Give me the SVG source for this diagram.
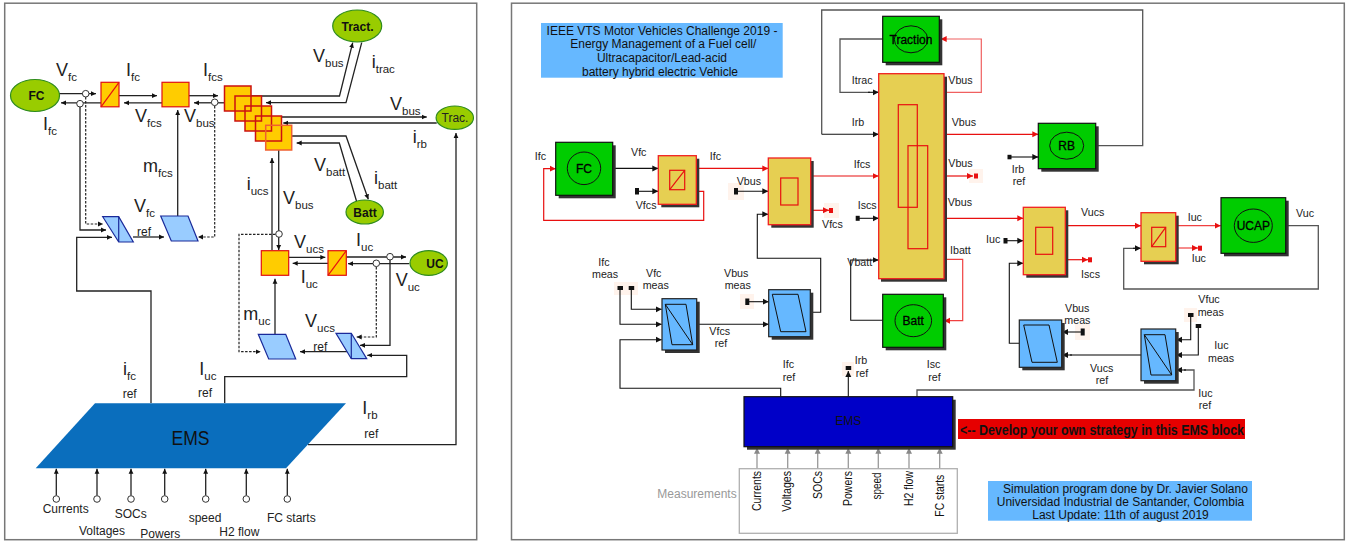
<svg xmlns="http://www.w3.org/2000/svg" width="1356" height="542" viewBox="0 0 1356 542">
<style>
text{font-family:"Liberation Sans",Arial,sans-serif;fill:#222}
.w{fill:none;stroke:#111;stroke-width:1.2}
.a{fill:none;stroke:#222;stroke-width:1.3;marker-end:url(#ak)}
.d{fill:none;stroke:#222;stroke-width:1.2;stroke-dasharray:2.5 1.5;marker-end:url(#ak)}
.g{fill:none;stroke:#555;stroke-width:1.3}
.ra{fill:none;stroke:#e81010;stroke-width:1.2;marker-end:url(#ar)}
.ba{fill:none;stroke:#111;stroke-width:1.1;marker-end:url(#ab)}
.ga{fill:none;stroke:#999;stroke-width:1.3;marker-end:url(#ag)}
.o{fill:#fff;stroke:#333;stroke-width:1}
.big{font-size:18px}
.big tspan{font-size:11.5px}
.s12{font-size:12px}
.s11{font-size:10.7px;fill:#333}
.b{font-weight:bold;fill:#111}
.h{fill:#000;stroke:#000;stroke-width:.3;font-size:12px}
.yb{fill:#ffcc00;stroke:#e01010;stroke-width:1.2}
.stf{fill:#ffcc00}
.stk{fill:none;stroke:#cc1111;stroke-width:1.5}
.pa{fill:#99ccff;stroke:#1a2a9a;stroke-width:1.2}
.el{fill:#99cc00;stroke:#2e8b1e;stroke-width:1.2}
.sh{fill:#333}
.gr{fill:#00cc00;stroke:#111;stroke-width:1.2}
.ye{fill:#e6cf52;stroke:#f02020;stroke-width:1.3}
.bl{fill:#66b8ff;stroke:#222;stroke-width:1.2}
.in{fill:none;stroke:#e81010;stroke-width:1.2}
.ik{fill:none;stroke:#111;stroke-width:1}
.hl{fill:#fff3ec}
.pk{fill:#111}
.pr{fill:#e81010}
.fr{fill:#fff;stroke:#777;stroke-width:1.5}
.nt text{fill:#111}
</style>
<defs>
<marker id="ak" markerUnits="userSpaceOnUse" markerWidth="6" markerHeight="6" refX="5" refY="3" orient="auto"><path d="M0 .6L5 3L0 5.4z" fill="#111"/></marker>
<marker id="ar" markerUnits="userSpaceOnUse" markerWidth="7" markerHeight="7" refX="6" refY="3.5" orient="auto"><path d="M0 .5L6 3.5L0 6.5z" fill="#e81010"/></marker>
<marker id="ab" markerUnits="userSpaceOnUse" markerWidth="7" markerHeight="7" refX="6" refY="3.5" orient="auto"><path d="M0 .5L6 3.5L0 6.5z" fill="#111"/></marker>
<marker id="ag" markerUnits="userSpaceOnUse" markerWidth="7" markerHeight="7" refX="6" refY="3.5" orient="auto"><path d="M0 .5L6 3.5L0 6.5z" fill="#888"/></marker>
</defs>
<rect width="1356" height="542" fill="#fff"/>
<rect class="fr" x="4.7" y="3.2" width="472" height="536.5"/>
<rect class="fr" x="511.5" y="3.2" width="832.8" height="536.5"/>

<g id="connectors-left">
<path class="a" d="M59 93.7H96"/><path class="a" d="M101 102.8H61"/>
<path class="a" d="M119 95.7H157"/><path class="a" d="M162 102.8H124"/>
<path class="a" d="M189 95.7H218"/><path class="a" d="M224 102.8H194"/>
<path class="a" d="M80 107V230H106"/><path class="d" d="M85.7 97V224H103"/>
<path class="a" d="M151 403V291H76.7V237.3H112"/>
<path class="a" d="M133 237H164"/><path class="a" d="M177.7 216V110"/>
<path class="d" d="M214.7 106V237H198"/>
<path class="a" d="M251 96H339.5L352.7 42.7"/><path class="a" d="M361.7 42.7L346 102.7H266"/>
<path class="a" d="M281.7 117H426.7"/><path class="a" d="M436.7 123H283.3"/>
<path class="a" d="M291.7 136H346L368.3 199.3"/><path class="a" d="M356.7 201.7L339.3 143H296.7"/>
<path class="a" d="M272 250V158"/><path class="a" d="M278.7 150V250"/>
<path class="d" d="M275.5 234.3H239V351.7H260.7"/>
<path class="a" d="M288.7 257.3H325.3"/><path class="a" d="M328 263.3H292.7"/>
<path class="a" d="M346.3 257H406"/><path class="a" d="M409.3 263.7H348"/>
<path class="a" d="M390 260V345.3H360"/><path class="d" d="M376.3 267V337H356.7"/>
<path class="a" d="M348.7 351.7H300"/><path class="a" d="M275 334V278.7"/>
<path class="a" d="M224.7 403V376.7H406.7V355.3H367.3"/>
<path class="a" d="M308 444.7H456V133"/>
<path class="a" d="M56.3 495.5V468.8"/><path class="a" d="M97 495.5V468.8"/><path class="a" d="M131 495.5V468.8"/><path class="a" d="M164.7 495.5V468.8"/><path class="a" d="M205.7 495.5V468.8"/><path class="a" d="M246.3 495.5V468.8"/><path class="a" d="M287.3 495.5V468.8"/>
<circle class="o" cx="85.7" cy="93.7" r="3.3"/><circle class="o" cx="80" cy="103.7" r="3.3"/><circle class="o" cx="214.7" cy="102.3" r="3.3"/>
<circle class="o" cx="279" cy="234" r="3.3"/><circle class="o" cx="390" cy="256.7" r="3.3"/><circle class="o" cx="376.3" cy="263.3" r="3.3"/>
<circle class="o" cx="56.3" cy="499" r="3.3"/><circle class="o" cx="97" cy="499" r="3.3"/><circle class="o" cx="131" cy="499" r="3.3"/><circle class="o" cx="164.7" cy="499" r="3.3"/><circle class="o" cx="205.7" cy="499" r="3.3"/><circle class="o" cx="246.3" cy="499" r="3.3"/><circle class="o" cx="287.3" cy="499" r="3.3"/>
</g>

<g id="fc-left"><ellipse class="el" cx="35" cy="95.5" rx="24.5" ry="16"/><text class="s12 b" x="36.5" y="100" text-anchor="middle">FC</text></g>
<g id="conv-fc-left"><rect class="yb" x="101" y="82.3" width="18" height="24.5"/><path class="in" d="M101 106.8L119 82.3"/></g>
<g id="chop-fc-left"><rect class="yb" x="162" y="82.3" width="27" height="24.5"/></g>
<g id="bus-left">
<rect class="stf" x="224.5" y="86" width="26.5" height="25"/><rect class="stf" x="235" y="96" width="26.5" height="25"/><rect class="stf" x="245" y="106" width="26.5" height="25"/><rect class="stf" x="255.5" y="116" width="26" height="25"/><rect class="stf" x="265.7" y="125.3" width="26" height="24.7"/>
<rect class="stk" x="224.5" y="86" width="26.5" height="25"/><rect class="stk" x="235" y="96" width="26.5" height="25"/><rect class="stk" x="245" y="106" width="26.5" height="25"/><rect class="stk" x="255.5" y="116" width="26" height="25"/><rect class="stk" x="265.7" y="125.3" width="26" height="24.7" style="stroke:#f06030"/>
</g>
<g id="tract-top"><ellipse class="el" cx="357.2" cy="26" rx="24.5" ry="16"/><text class="s12 b" x="357.5" y="31" text-anchor="middle">Tract.</text></g>
<g id="trac-right"><ellipse class="el" cx="454.8" cy="117.7" rx="18.7" ry="11.7"/><text class="s12" x="455" y="122" text-anchor="middle">Trac.</text></g>
<g id="batt-left"><ellipse class="el" cx="364.7" cy="212" rx="18.7" ry="12"/><text class="s12 b" x="365" y="216.5" text-anchor="middle">Batt</text></g>
<g id="uc-left"><ellipse class="el" cx="428.7" cy="263" rx="18.7" ry="12.3"/><text class="s12 b" x="435" y="267.5" text-anchor="middle">UC</text></g>
<g id="chop-uc-left"><rect class="yb" x="261.3" y="250.7" width="27.4" height="24.6"/></g>
<g id="conv-uc-left"><rect class="yb" x="328" y="250.7" width="18.3" height="24.6"/><path class="in" d="M328 275.3L346.3 250.7"/></g>
<g id="ctrl-v-fc"><path class="pa" d="M102.7 216.7H118.7L133.3 242H118.7Z"/><path class="pa" d="M118.7 216.7V242"/></g>
<g id="ctrl-m-fc"><path class="pa" d="M160.7 216H188L198 241H171.3Z"/></g>
<g id="ctrl-v-uc"><path class="pa" d="M336 333.3H351.3L366.7 358.7H351.3Z"/><path class="pa" d="M351.3 333.3V358.7"/></g>
<g id="ctrl-m-uc"><path class="pa" d="M258.3 334.3H285.7L295.7 359H268.7Z"/></g>
<g id="ems-left"><path d="M95 403.3H346L286 468.3H35.7Z" fill="#0a6ebd"/><text x="171.5" y="445" font-size="20" textLength="38" lengthAdjust="spacingAndGlyphs" style="fill:#111">EMS</text></g>

<g id="labels-left">
<text class="big" x="56" y="76">V<tspan dy="5">fc</tspan></text>
<text class="big" x="126" y="76">I<tspan dy="5">fc</tspan></text>
<text class="big" x="203" y="76">I<tspan dy="5">fcs</tspan></text>
<text class="big" x="43" y="130">I<tspan dy="5">fc</tspan></text>
<text class="big" x="135" y="122">V<tspan dy="5">fcs</tspan></text>
<text class="big" x="184" y="122">V<tspan dy="5">bus</tspan></text>
<text class="big" x="143" y="172">m<tspan dy="5">fcs</tspan></text>
<text class="big" x="134" y="212">V<tspan dy="5">fc</tspan></text>
<text class="s12" x="137" y="236">ref</text>
<text class="big" x="313" y="62">V<tspan dy="5">bus</tspan></text>
<text class="big" x="371.7" y="68">i<tspan dy="5">trac</tspan></text>
<text class="big" x="390" y="110">V<tspan dy="5">bus</tspan></text>
<text class="big" x="412.7" y="143">i<tspan dy="5">rb</tspan></text>
<text class="big" x="314" y="170.7">V<tspan dy="5">batt</tspan></text>
<text class="big" x="374" y="184">i<tspan dy="5">batt</tspan></text>
<text class="big" x="246.7" y="190">i<tspan dy="5">ucs</tspan></text>
<text class="big" x="283" y="204">V<tspan dy="5">bus</tspan></text>
<text class="big" x="294" y="248">V<tspan dy="5">ucs</tspan></text>
<text class="big" x="356" y="246">I<tspan dy="5">uc</tspan></text>
<text class="big" x="300.7" y="283">I<tspan dy="5">uc</tspan></text>
<text class="big" x="395.7" y="286">V<tspan dy="5">uc</tspan></text>
<text class="big" x="243.3" y="320">m<tspan dy="5">uc</tspan></text>
<text class="big" x="305" y="327">V<tspan dy="5">ucs</tspan></text>
<text class="s12" x="313.3" y="351">ref</text>
<text class="big" x="123" y="375">i<tspan dy="5">fc</tspan></text><text class="s12" x="122.7" y="398">ref</text>
<text class="big" x="199.3" y="375">I<tspan dy="5">uc</tspan></text><text class="s12" x="198" y="397">ref</text>
<text class="big" x="362.3" y="414">I<tspan dy="5">rb</tspan></text><text class="s12" x="364.3" y="438">ref</text>
<text class="s12" x="42.7" y="512.7">Currents</text><text class="s12" x="79" y="535">Voltages</text><text class="s12" x="114.7" y="517.7">SOCs</text><text class="s12" x="140.3" y="537.7">Powers</text><text class="s12" x="188.7" y="521.7">speed</text><text class="s12" x="219.3" y="535.7">H2 flow</text><text class="s12" x="267" y="521.7">FC starts</text>
</g>

<g id="connectors-right">
<rect class="hl" x="728" y="183" width="16" height="17"/><rect class="hl" x="824" y="203" width="15" height="15"/><rect class="hl" x="969" y="169" width="14" height="14"/><rect class="hl" x="1075" y="324" width="15" height="16"/><rect class="hl" x="1184" y="308" width="13" height="14"/><rect class="hl" x="842" y="362" width="12" height="14"/><rect class="hl" x="740" y="294" width="14" height="15"/><rect class="hl" x="614" y="282" width="24" height="13"/>
<path class="ba" d="M612.7 168.4H658.3"/><path class="ba" d="M637 191.3H658.3"/>
<path class="ra" d="M696.3 168.4H768.3"/><path class="ra" d="M696.3 191.3H703.7V220.3H543.7V168.7H555.7"/>
<path class="ba" d="M736 191.3H768.3"/><path class="ra" d="M810.7 210.3H829"/>
<path class="ra" d="M810.7 176H878.7"/>
<path class="ba" d="M810.7 312.3H820.7V258.3H757.3V214.3H768.3"/>
<path class="g" d="M1096 145.7H1142.7V10H821.7V134.3"/><path class="ba" d="M821.7 134.3H878.7"/>
<path class="g" d="M882.7 39H840V92.3H870"/><path class="ba" d="M868 92.3H878.7"/>
<path class="ra" d="M944 92.3H981.3V39H940.7" style="stroke:#f06060"/>
<path class="ra" d="M944 134.3H1038.3"/><path class="ba" d="M1009.3 157H1038.3"/>
<path class="ra" d="M944 176H973"/><path class="ba" d="M857.7 218.3H878.7"/>
<path class="ba" d="M882.7 320.3H850.7V260H878.7"/>
<path class="ra" d="M944 259.3H962.7V320.7H944" style="stroke:#f04040"/>
<path class="ra" d="M944 218.3H1023.3"/><path class="ba" d="M1005.7 240.7H1023.3"/>
<path class="ba" d="M1019.3 343.3H1009.3V263.3H1023.3"/>
<path class="ra" d="M1065.3 225.7H1141"/><path class="ra" d="M1065.3 259.7H1088"/>
<path class="ra" d="M1175.7 225.7H1220.7" style="stroke:#f04040"/><path class="ra" d="M1175.7 248H1198" style="stroke:#f04040"/>
<path class="g" d="M1285.7 225.7H1318.3V289H1123.7V248.3H1135"/><path class="ba" d="M1133 248.3H1141"/>
<path class="ba" d="M1082.7 332H1062"/><path class="g" d="M1141 355H1070"/><path class="ba" d="M1072 355H1062"/>
<path class="ba" d="M1190.7 314.7V339.7H1176"/><path class="ba" d="M1198.3 326V355H1176"/>
<path class="g" d="M917 396.7V390H1194V370H1184"/><path class="ba" d="M1186 370H1176"/>
<path class="ba" d="M631.3 290V309.3H661.7"/><path class="ba" d="M620 290V324.3H661.7"/>
<path class="ba" d="M780.7 396.7V388.3H620V339.7H661.7"/>
<path class="ba" d="M696.7 324.3H768.7"/><path class="ba" d="M747.3 301.7H768.7"/>
<path class="ba" d="M848.3 396.7V371"/>
<path class="ga" d="M757 469V447.7"/><path class="ga" d="M787.7 469V447.7"/><path class="ga" d="M817.7 469V447.7"/><path class="ga" d="M848.3 469V447.7"/><path class="ga" d="M878.3 469V447.7"/><path class="ga" d="M909 469V447.7"/><path class="ga" d="M939.7 469V447.7"/>
<rect class="pk" x="635" y="188" width="4" height="6.5"/><rect class="pk" x="734" y="188" width="4" height="6.5"/><rect class="pk" x="1007.5" y="154.8" width="4" height="4.5"/><rect class="pk" x="855.7" y="215.8" width="4" height="5"/><rect class="pk" x="1003.5" y="238" width="4" height="5.5"/><rect class="pk" x="1080.7" y="328.5" width="4" height="7"/><rect class="pk" x="1188" y="313" width="5.5" height="4"/><rect class="pk" x="1195.7" y="324" width="5.5" height="4"/><rect class="pk" x="617.5" y="286" width="5.5" height="4"/><rect class="pk" x="628.7" y="286" width="5.5" height="4"/><rect class="pk" x="745.3" y="298.5" width="4" height="6.5"/><rect class="pk" x="845.7" y="366" width="5.5" height="4"/>
<rect class="pr" x="829" y="208" width="4" height="5"/><rect class="pr" x="974" y="173.5" width="4" height="5"/><rect class="pr" x="1088" y="257.3" width="4" height="5"/><rect class="pr" x="1198" y="245.7" width="4" height="5"/>
</g>

<g id="note-title" class="nt"><rect x="541" y="23" width="241.7" height="54.7" fill="#66b8ff"/>
<g class="s12" text-anchor="middle"><text x="662" y="34.5">IEEE VTS Motor Vehicles Challenge 2019 -</text><text x="663.3" y="48">Energy Management of a Fuel cell/</text><text x="662" y="62">Ultracapacitor/Lead-acid</text><text x="660" y="75.5">battery hybrid electric Vehicle</text></g></g>

<g id="fc"><rect class="sh" x="558.7" y="145.3" width="57" height="53"/><rect class="gr" x="555.7" y="142.3" width="57" height="53"/><ellipse class="ik" cx="584" cy="168.3" rx="16.7" ry="16.3"/><text x="584" y="173" class="h" text-anchor="middle">FC</text></g>
<g id="conv-fc"><rect class="sh" x="661.3" y="158.7" width="38" height="48.6"/><rect class="ye" x="658.3" y="155.7" width="38" height="48.6"/><rect class="in" x="669.7" y="170.3" width="15" height="19.4"/><path class="in" d="M669.7 189.7L684.7 170.3"/></g>
<g id="chop-fc"><rect class="sh" x="771.3" y="161" width="42.4" height="66.7"/><rect class="ye" x="768.3" y="158" width="42.4" height="66.7"/><rect class="in" x="780.7" y="178" width="17.3" height="27"/></g>
<g id="traction"><rect class="sh" x="885.7" y="19.3" width="56.6" height="46"/><rect class="gr" x="882.7" y="16.3" width="56.6" height="46"/><ellipse class="ik" cx="911" cy="39.3" rx="16.7" ry="13.5"/><text x="911" y="43.5" class="h" text-anchor="middle">Traction</text></g>
<g id="bus"><rect class="sh" x="881" y="76.7" width="66" height="205"/><rect class="ye" x="878.7" y="73.7" width="65.3" height="205"/><rect class="in" x="898.3" y="104.7" width="19" height="102.6"/><rect class="in" x="908" y="145.7" width="19.7" height="103"/></g>
<g id="rb"><rect class="sh" x="1041.3" y="126.3" width="57.4" height="45.4"/><rect class="gr" x="1038.3" y="123.3" width="57.4" height="45.4"/><ellipse class="ik" cx="1066.7" cy="145.7" rx="17" ry="13.5"/><text x="1066.7" y="150" class="h" text-anchor="middle">RB</text></g>
<g id="batt"><rect class="sh" x="885.7" y="297.3" width="60.6" height="53"/><rect class="gr" x="882.7" y="294.3" width="60.6" height="53"/><ellipse class="ik" cx="913.3" cy="320.7" rx="18.3" ry="16"/><text x="913.3" y="325" class="h" text-anchor="middle">Batt</text></g>
<g id="chop-uc"><rect class="sh" x="1026.3" y="210.3" width="42" height="67.4"/><rect class="ye" x="1023.3" y="207.3" width="42" height="67.4"/><rect class="in" x="1035.7" y="227.3" width="17" height="27"/></g>
<g id="conv-uc"><rect class="sh" x="1144" y="215.7" width="34.7" height="48.6"/><rect class="ye" x="1141" y="212.7" width="34.7" height="48.6"/><rect class="in" x="1151.7" y="227.3" width="14" height="19.4"/><path class="in" d="M1151.7 246.7L1165.7 227.3"/></g>
<g id="ucap"><rect class="sh" x="1224" y="200.7" width="64.7" height="55.6"/><rect class="gr" x="1221" y="197.7" width="64.7" height="55.6"/><ellipse class="ik" cx="1253.3" cy="225.7" rx="19" ry="16.7"/><text x="1253.3" y="230" class="h" text-anchor="middle">UCAP</text></g>
<g id="ctrl-bus-uc"><rect class="sh" x="1022.3" y="323" width="42.4" height="47.3"/><rect class="bl" x="1019.3" y="320" width="42.4" height="47.3"/><path class="ik" d="M1023.7 325H1049L1057.3 362.3H1032Z"/></g>
<g id="ctrl-v-ucap"><rect class="sh" x="1144" y="332" width="34.7" height="51.7"/><rect class="bl" x="1141" y="329" width="34.7" height="51.7"/><path class="ik" d="M1144.3 334.7H1165L1171.7 375H1151ZM1144.3 334.7L1171.7 375"/></g>
<g id="ctrl-v-fcs"><rect class="sh" x="665" y="301.7" width="34.7" height="51.3"/><rect class="bl" x="662" y="298.7" width="34.7" height="51.3"/><path class="ik" d="M665.3 304.3H686L692.7 344.7H672ZM665.3 304.3L692.7 344.7"/></g>
<g id="ctrl-bus-fc"><rect class="sh" x="771.7" y="292.7" width="41.6" height="47"/><rect class="bl" x="768.7" y="289.7" width="41.6" height="47"/><path class="ik" d="M772.3 294.3H798L806 331.7H780.7Z"/></g>
<g id="ems"><rect class="sh" x="747" y="399.7" width="208.7" height="50"/><rect x="744" y="396.7" width="208.7" height="50" fill="#0000c8" stroke="#111" stroke-width="1.2"/><text x="848.3" y="425" class="s12" text-anchor="middle" style="fill:#111">EMS</text></g>
<g id="measurements" class="nt"><rect x="739.3" y="468.7" width="218" height="64.6" fill="none" stroke="#b0b0b0" stroke-width="1.3"/>
<text x="657.3" y="498.3" class="s12" style="fill:#999">Measurements</text>
<g class="s12"><text transform="translate(760.5 511) rotate(-90)" textLength="40" lengthAdjust="spacingAndGlyphs">Currents</text><text transform="translate(791 511.7) rotate(-90)" textLength="40.7" lengthAdjust="spacingAndGlyphs">Voltages</text><text transform="translate(821.5 499) rotate(-90)" textLength="28" lengthAdjust="spacingAndGlyphs">SOCs</text><text transform="translate(852 506) rotate(-90)" textLength="35" lengthAdjust="spacingAndGlyphs">Powers</text><text transform="translate(881 499.5) rotate(-90)" textLength="27" lengthAdjust="spacingAndGlyphs">speed</text><text transform="translate(913 506) rotate(-90)" textLength="35" lengthAdjust="spacingAndGlyphs">H2 flow</text><text transform="translate(943.5 516.7) rotate(-90)" textLength="42" lengthAdjust="spacingAndGlyphs">FC starts</text></g></g>
<g id="note-strategy"><rect x="958" y="419" width="287" height="20" fill="#e60000"/><text x="960" y="434.7" font-size="15" class="b" textLength="284" lengthAdjust="spacingAndGlyphs">&lt;-- Develop your own strategy in this EMS block</text></g>
<g id="note-author" class="nt"><rect x="988" y="481" width="264" height="39.7" fill="#66b8ff"/>
<g class="s12" text-anchor="middle"><text x="1125.5" y="492.7">Simulation program done by Dr. Javier Solano</text><text x="1120.5" y="506">Universidad Industrial de Santander, Colombia</text><text x="1120.5" y="519.3">Last Update: 11th of august 2019</text></g></g>

<g id="labels-right" class="s11">
<text x="534.7" y="160">Ifc</text><text x="631" y="155.7">Vfc</text><text x="709.7" y="160">Ifc</text><text x="635.7" y="209">Vfcs</text><text x="736.7" y="185">Vbus</text><text x="822" y="227.7">Vfcs</text>
<text x="948.3" y="84">Vbus</text><text x="851.7" y="84">Itrac</text><text x="851.7" y="125.7">Irb</text><text x="951.7" y="125.7">Vbus</text><text x="853.7" y="168.3">Ifcs</text><text x="948.3" y="167.3">Vbus</text>
<text x="1011.7" y="173.3">Irb</text><text x="1012.7" y="185">ref</text>
<text x="857.7" y="209.3">Iscs</text><text x="847.3" y="266">Vbatt</text><text x="950" y="254">Ibatt</text><text x="947.7" y="206">Vbus</text>
<text x="986" y="243.3">Iuc</text><text x="1081" y="216">Vucs</text><text x="1081" y="278.3">Iscs</text><text x="1187.7" y="220.7">Iuc</text><text x="1191.7" y="262.3">Iuc</text><text x="1296" y="216.7">Vuc</text>
<text x="1065" y="311.7">Vbus</text><text x="1064.3" y="324.3">meas</text><text x="1090" y="372">Vucs</text><text x="1095.7" y="384.3">ref</text>
<text x="1198.3" y="303.3">Vfuc</text><text x="1197.7" y="316">meas</text><text x="1214.3" y="349.3">Iuc</text><text x="1208" y="361.7">meas</text><text x="1198.3" y="396.7">Iuc</text><text x="1198.7" y="409">ref</text>
<text x="926.7" y="368.3">Isc</text><text x="928.3" y="380.7">ref</text><text x="854.7" y="364.3">Irb</text><text x="855.7" y="376.7">ref</text>
<text x="598.3" y="265.7">Ifc</text><text x="592" y="277.7">meas</text><text x="646" y="277.3">Vfc</text><text x="642.7" y="289.3">meas</text><text x="724" y="277.3">Vbus</text><text x="724.7" y="289.3">meas</text>
<text x="709.3" y="334.7">Vfcs</text><text x="714.7" y="347.3">ref</text><text x="782.7" y="368.3">Ifc</text><text x="782.7" y="380.7">ref</text>
</g>
</svg>
